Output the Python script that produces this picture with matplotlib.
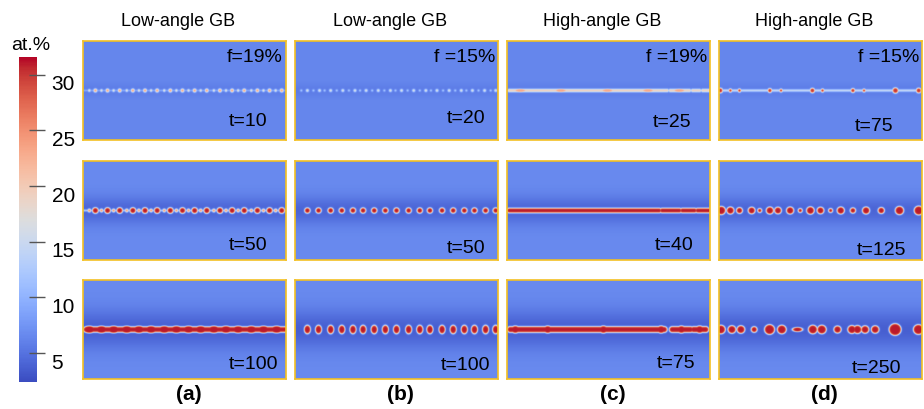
import numpy as np
import matplotlib
matplotlib.use("Agg")
import matplotlib.pyplot as plt
from matplotlib.cm import ScalarMappable
from matplotlib.colors import Normalize
from matplotlib.transforms import ScaledTranslation

plt.rcParams["font.family"] = ["Liberation Sans", "DejaVu Sans"]

VMIN, VMAX = 2.4, 31.6
CBAR_TICKS = [5, 10, 15, 20, 25, 30]

COL_TITLES = ["Low-angle GB", "Low-angle GB", "High-angle GB", "High-angle GB"]
COL_TAGS = ["(a)", "(b)", "(c)", "(d)"]
FRACTIONS = ["f=19%", "f =15%", "f =19%", "f =15%"]
TIMES = [[10, 50, 100], [20, 50, 100], [25, 40, 75], [75, 125, 250]]

# matrix level and the depleted band along the boundary (depth, width), per row
BG_LEVEL = [6.5, 6.7, 6.7]
BAND_DEPTH = [0.8, 2.6, 3.0]
BAND_WIDTH = [5, 10, 14]

# precipitate centres along the boundary, panel width = 200 units
A10_BIG = [12, 24, 36, 49, 61, 73, 86, 98, 110, 122, 135, 147, 159, 172, 184, 196]
A10_SMALL = [6, 18, 30, 43, 55, 67, 80, 92, 104, 116, 129, 141, 153, 166, 178, 190]
A100_BEADS = [6, 18, 30, 43, 55, 67, 80, 92, 104, 116, 129, 141, 153, 166, 178, 191]

B20_BIG = [12, 24, 35, 47, 59, 70, 82, 94, 105, 117, 129, 140, 152, 164, 175, 187, 198]
B20_SMALL = [6, 18, 29, 41, 53, 64, 76, 88, 99, 111, 123, 134, 146, 158, 169, 181, 193]
B50_DOTS = [12, 23, 35, 46, 57, 67, 78, 89, 100, 112, 123, 133, 145, 156, 167, 177, 188, 198]

C25_STREAKS = [(2, 158), (161, 180), (183, 190), (193, 200)]
C25_PINK = [13, 53, 99, 139, 170]
C40_STREAKS = [(2, 150), (153, 170), (173, 185), (188, 200)]
C75_STREAKS = [(3, 155), (163, 181), (184, 196)]
C75_BULGES = [8, 40, 95, 152, 172, 190]

D75_X = [1, 11, 20, 50, 61, 92, 102, 132, 143, 174, 197]
D75_R = [2.4, 1.6, 1.6, 2.0, 1.5, 2.3, 1.6, 2.0, 1.5, 2.7, 2.4]
D125_X = [2, 11, 20, 32, 40, 50, 58, 70, 80, 90, 100, 110, 120, 132, 145, 160, 178, 197]
D125_R = [4.2, 3.6, 3.0, 3.4, 2.0, 3.6, 3.4, 3.6, 2.0, 3.8, 3.4, 2.0, 3.6, 2.7, 3.6, 3.1, 4.2, 4.5]
D250_X = [1.6, 12.5, 21.4, 34.5, 49.7, 61.8, 92.4, 101.3, 116.8, 131, 136.5, 144, 154, 173.7, 196.7]
D250_R = [4.4, 3.9, 3.9, 2.9, 5.0, 4.4, 4.4, 4.4, 3.6, 4.1, 4.1, 3.8, 3.8, 6.0, 5.0]
D250_BAR = 77.3

Y0 = 50.0  # boundary height inside a 200 x 100 panel
X, Y = np.meshgrid(np.linspace(0, 200, 420), np.linspace(0, 100, 210))


def blob(x, rx, ry, w=0.75):
    d = np.sqrt(((X - x) / rx) ** 2 + ((Y - Y0) / ry) ** 2)
    return 0.5 * (1 - np.tanh((d - 1) * np.sqrt(rx * ry) / w))


def streak(x0, x1, h, w=0.75):
    d = np.hypot(np.clip(X, x0, x1) - X, Y - Y0)
    return 0.5 * (1 - np.tanh((d - h) / w))


def panel_shapes(col, row):
    """(phase field, peak concentration) pairs for one snapshot."""
    s = []
    if col == 0:
        if row == 0:
            s += [(streak(0, 200, 0.7), 10)]
            s += [(blob(x, 1.7, 1.7), 23) for x in A10_BIG]
            s += [(blob(x, 1.2, 1.2), 18) for x in A10_SMALL]
        elif row == 1:
            s += [(streak(0, 200, 0.8), 14)]
            s += [(blob(x, 2.9, 2.9), 31) for x in A10_BIG]
            s += [(blob(x, 1.6, 1.6), 24) for x in A10_SMALL]
        else:
            s += [(streak(3, 199, 2.8), 31)]
            s += [(blob(x, 6.2, 3.6), 31) for x in A100_BEADS]
    elif col == 1:
        if row == 0:
            s += [(blob(x, 1.3, 1.3), 17) for x in B20_BIG]
            s += [(blob(x, 0.9, 0.9), 13) for x in B20_SMALL]
        elif row == 1:
            s += [(blob(x, 2.7, 2.7), 31) for x in B50_DOTS]
        else:
            s += [(blob(x, 3.1, 4.3), 31) for x in B50_DOTS]
    elif col == 2:
        if row == 0:
            s += [(streak(a, b, 1.5), 19.5) for a, b in C25_STREAKS]
            s += [(blob(x, 6, 1.6), 23) for x in C25_PINK]
        elif row == 1:
            s += [(streak(a, b, 2.4), 31) for a, b in C40_STREAKS]
        else:
            s += [(streak(a, b, 3.0), 31) for a, b in C75_STREAKS]
            s += [(blob(x, 4.5, 3.7), 31) for x in C75_BULGES]
    else:
        if row == 0:
            s += [(streak(0, 200, 1.0), 15.5)]
            s += [(blob(x, r, r), 30) for x, r in zip(D75_X, D75_R)]
        elif row == 1:
            s += [(blob(x, r, r), 31) for x, r in zip(D125_X, D125_R)]
        else:
            s += [(blob(x, r, r), 31) for x, r in zip(D250_X, D250_R)]
            s += [(blob(D250_BAR, 5, 2.2), 31)]
    return s


def field(col, row):
    bg = BG_LEVEL[row] - BAND_DEPTH[row] * np.exp(-((Y - Y0) ** 2) / (2 * BAND_WIDTH[row] ** 2))
    c = bg.copy()
    for phi, peak in panel_shapes(col, row):
        c = np.maximum(c, bg + (peak - bg) * phi)
    return c


W, H = 924, 409
fig = plt.figure(figsize=(W / 100, H / 100), dpi=100)

col_x = [83, 295, 507, 719]
row_y = [41, 161, 280]
pw, ph = 203, 99
# label anchors (axes fraction) for the time stamps
t_pos = [[(0.91, 0.19), (0.91, 0.15), (0.96, 0.15)],
         [(0.94, 0.22), (0.94, 0.12), (0.96, 0.14)],
         [(0.91, 0.18), (0.92, 0.15), (0.93, 0.16)],
         [(0.86, 0.14), (0.92, 0.10), (0.90, 0.11)]]

for c in range(4):
    for r in range(3):
        ax = fig.add_axes([col_x[c] / W, 1 - (row_y[r] + ph) / H, pw / W, ph / H])
        ax.imshow(field(c, r), extent=(0, 200, 0, 100), origin="lower", cmap="coolwarm",
                  vmin=VMIN, vmax=VMAX, aspect="auto", interpolation="bilinear")
        ax.set_xticks([]); ax.set_yticks([])
        for sp in ax.spines.values():
            sp.set_color("#f3c022"); sp.set_linewidth(1.2)
        tx, ty = t_pos[c][r]
        ax.text(tx, ty, f"t={TIMES[c][r]}", transform=ax.transAxes, ha="right", va="center", fontsize=14)
        if r == 0:
            ax.text(0.985, 0.83, FRACTIONS[c], transform=ax.transAxes, ha="right", va="center", fontsize=14)
    fig.text((col_x[c] + pw / 2 - 6) / W, 1 - 21 / H, COL_TITLES[c], ha="center", va="center", fontsize=13)
    fig.text((col_x[c] + pw / 2 + 4) / W, 1 - 395 / H, COL_TAGS[c], ha="center", va="center",
             fontsize=15, fontweight="bold")

cax = fig.add_axes([19 / W, 1 - 382 / H, 18 / W, 325 / H])
cb = fig.colorbar(ScalarMappable(Normalize(VMIN, VMAX), "coolwarm"), cax=cax, ticks=CBAR_TICKS)
cb.outline.set_visible(False)
cax.tick_params(direction="inout", length=11, width=1, color="#555555", labelsize=15, pad=5)
# numbers sit a little below their tick marks
shift = ScaledTranslation(0, -0.08, fig.dpi_scale_trans)
for lab in cax.get_yticklabels():
    lab.set_transform(lab.get_transform() + shift)
fig.text(31 / W, 1 - 45 / H, "at.%", ha="center", va="center", fontsize=14)

fig.savefig("out.png", dpi=100)
